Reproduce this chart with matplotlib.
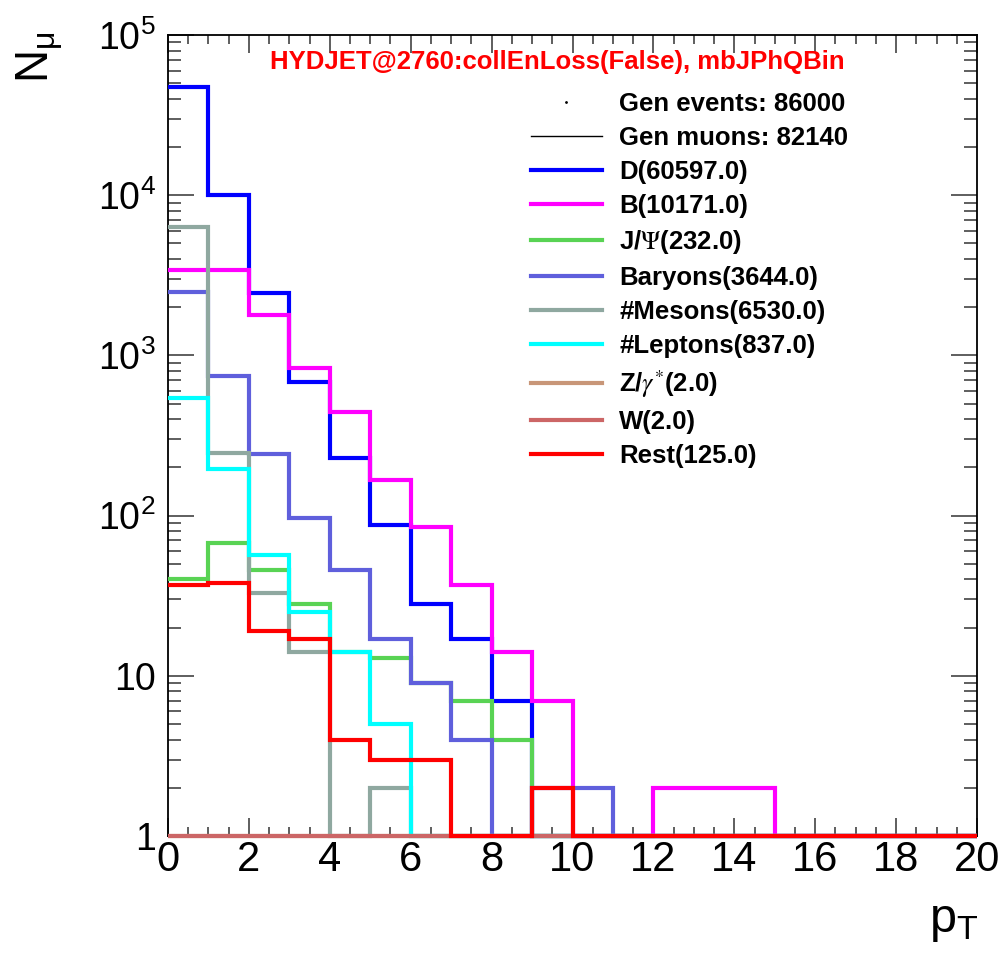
import numpy as np
import matplotlib
matplotlib.use("Agg")
import matplotlib.pyplot as plt
from matplotlib import font_manager
from matplotlib.lines import Line2D
from matplotlib.ticker import FixedLocator, FixedFormatter, MultipleLocator

names = {f.name for f in font_manager.fontManager.ttflist}
NARROW = 'Liberation Sans Narrow' if 'Liberation Sans Narrow' in names else 'Liberation Sans'
plt.rcParams['font.family'] = [NARROW, 'DejaVu Sans']
plt.rcParams['mathtext.fontset'] = 'custom'
plt.rcParams['mathtext.rm'] = NARROW
plt.rcParams['mathtext.it'] = NARROW
plt.rcParams['mathtext.sf'] = NARROW

# ---------------- data ----------------
bin_edges = list(range(0, 21))
D_vals      = [47100, 10000, 2450, 680, 230, 87, 28, 17, 7, 0, 0, 0, 0, 0, 0, 0, 0, 0, 0, 0]
B_vals      = [3400, 3400, 1800, 835, 445, 167, 85, 37, 14, 7, 0, 0, 2, 2, 2, 0, 0, 0, 0, 0]
JPsi_vals   = [40, 67, 46, 28, 14, 13, 9, 7, 4, 0, 0, 0, 0, 0, 0, 0, 0, 0, 0, 0]
Baryon_vals = [2500, 745, 242, 97, 46, 17, 9, 4, 0, 2, 2, 0, 0, 0, 0, 0, 0, 0, 0, 0]
Meson_vals  = [6300, 246, 33, 14, 0, 2, 0, 0, 0, 0, 0, 0, 0, 0, 0, 0, 0, 0, 0, 0]
Lepton_vals = [540, 195, 57, 25, 14, 5, 0, 0, 0, 0, 0, 0, 0, 0, 0, 0, 0, 0, 0, 0]
Z_vals      = [0, 1, 0, 0, 1, 0, 0, 0, 0, 0, 0, 0, 0, 0, 0, 0, 0, 0, 0, 0]
W_vals      = [1, 0, 0, 1, 0, 0, 0, 0, 0, 0, 0, 0, 0, 0, 0, 0, 0, 0, 0, 0]
Rest_vals   = [37, 38, 19, 17, 4, 3, 3, 0, 0, 2, 0, 0, 0, 0, 0, 0, 0, 0, 0, 0]

series_labels = ['D(60597.0)', 'B(10171.0)', r'J/$\Psi$(232.0)', 'Baryons(3644.0)',
                 '#Mesons(6530.0)', '#Leptons(837.0)', r'Z/$\gamma^{*}$(2.0)', 'W(2.0)', 'Rest(125.0)']
series_values = [D_vals, B_vals, JPsi_vals, Baryon_vals, Meson_vals, Lepton_vals, Z_vals, W_vals, Rest_vals]
series_colors = ['#0000ff', '#ff00ff', '#59d354', '#5f5fdc', '#8fa8a0', '#00ffff', '#c89678', '#cc6666', '#ff0000']

x_ticks = [0, 2, 4, 6, 8, 10, 12, 14, 16, 18, 20]
y_ticks = [1, 10, 100, 1000, 10000, 100000]
y_tick_labels = ['1', '10', r'$10^{2}$', r'$10^{3}$', r'$10^{4}$', r'$10^{5}$']

title_text = 'HYDJET@2760:collEnLoss(False), mbJPhQBin'
gen_events_label = 'Gen events: 86000'
gen_muons_label = 'Gen muons: 82140'

# ---------------- figure ----------------
W, H = 1007, 957
fig = plt.figure(figsize=(W / 100, H / 100), dpi=100)
ax = fig.add_axes([168 / W, 1 - 836 / H, (977 - 168) / W, (836 - 35) / H])
ax.set_yscale('log')

YMIN = 1
handles = []
for vals, lab, col in zip(series_values, series_labels, series_colors):
    v = np.clip(np.asarray(vals, dtype=float), YMIN, None)
    ax.stairs(v, bin_edges, baseline=None, color=col, lw=3.0, clip_on=False, zorder=3)
    handles.append(Line2D([], [], color=col, lw=3.0, label=lab))

ax.set_xlim(0, 20)
ax.set_ylim(1, 1e5)

for s in ax.spines.values():
    s.set_linewidth(1.3)
    s.set_zorder(2)

ax.xaxis.set_major_locator(FixedLocator(x_ticks))
ax.xaxis.set_minor_locator(MultipleLocator(0.5))
ax.yaxis.set_major_locator(FixedLocator(y_ticks))
ax.yaxis.set_major_formatter(FixedFormatter(y_tick_labels))
ax.yaxis.set_minor_locator(matplotlib.ticker.LogLocator(base=10, subs=np.arange(2, 10), numticks=20))
ax.yaxis.set_minor_formatter(matplotlib.ticker.NullFormatter())

ax.tick_params(axis='both', which='both', direction='in', top=True, right=True, width=1.1, color='#333333')
ax.tick_params(axis='x', which='major', length=13, labelsize=30, pad=3)
ax.tick_params(axis='x', which='minor', length=6.5)
ax.tick_params(axis='y', which='major', length=19, labelsize=27, pad=9)
ax.tick_params(axis='y', which='minor', length=9.5)

# axis titles
fig.text(40 / W, 1 - 57 / H, r'N$_{\mu}$', rotation=90, fontsize=33, ha='center', va='center')
fig.text(978 / W, 1 - 922 / H, r'p$_{T}$', fontsize=35, ha='right', va='center')

# title
fig.text(557 / W, 1 - 62 / H, title_text, color='#ff0000', fontsize=18.5,
         fontweight='bold', family=['Liberation Sans', 'DejaVu Sans'], ha='center', va='center')

# legend
leg_handles = [Line2D([], [], ls='none', marker='.', ms=2, color='black', label=gen_events_label),
               Line2D([], [], color='black', lw=1.0, label=gen_muons_label)] + handles
leg = fig.legend(handles=leg_handles, loc='upper left', bbox_to_anchor=(531 / W, 1 - 92 / H),
                 frameon=False, borderpad=0, borderaxespad=0, handlelength=2.75,
                 handletextpad=0.68, labelspacing=0.39,
                 prop={'family': ['Liberation Sans', 'DejaVu Sans'], 'weight': 'bold', 'size': 18.5})
for t in leg.get_texts():
    t.set_math_fontfamily('stix')

fig.savefig('out.png', dpi=100)
